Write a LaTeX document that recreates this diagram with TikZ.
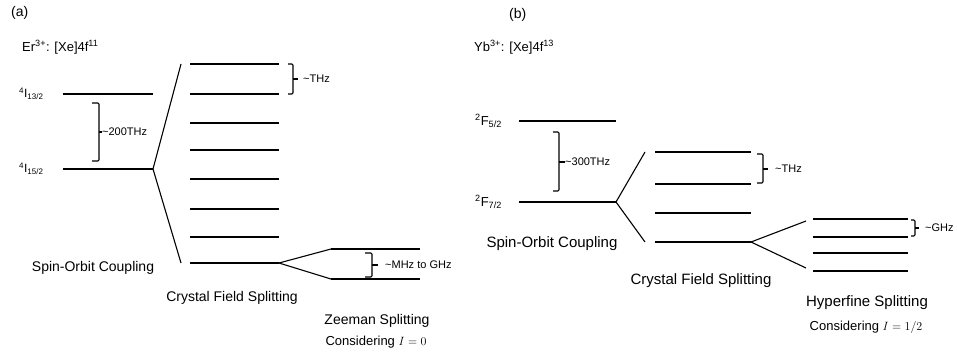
\documentclass[tikz,border=0pt]{standalone}
\usepackage{fontspec}
\setmainfont{Liberation Sans}
\begin{document}
\begin{tikzpicture}[x=1pt,y=-1pt,
  lvl/.style={line width=2.2pt},
  fan/.style={line width=1.1pt},
  brk/.style={line width=1.1pt, rounded corners=1.2pt},
  lbl/.style={anchor=west, inner sep=0pt},
  big/.style={font=\fontsize{14}{16}\selectfont},
  bigb/.style={font=\fontsize{15}{17}\selectfont},
  small/.style={font=\fontsize{11}{13}\selectfont},
  term/.style={font=\fontsize{12}{14}\selectfont, anchor=west, inner sep=0pt}]
\useasboundingbox (0,0) rectangle (957,353);

% ---------- panel (a) ----------
\node[lbl,big] (pa) at (11,13) {(a)};
\node[lbl,font=\fontsize{13}{15}\selectfont] (er) at (22,47) {Er\textsuperscript{3+}: [Xe]4f\textsuperscript{11}};

\node[term] (ta1) at (19,94) {\textsuperscript{4}I\textsubscript{13/2}};
\node[term] (ta2) at (19,169) {\textsuperscript{4}I\textsubscript{15/2}};
\coordinate (a1l) at (63,94);  \coordinate (a1r) at (153,94);
\coordinate (a2l) at (63,169); \coordinate (a2r) at (153,169);
\draw[lvl] (a1l) -- (a1r);
\draw[lvl] (a2l) -- (a2r);

% bracket ~200THz
\draw[brk] (92,103) -- (99,103) -- (99,161) -- (92,161);
\coordinate (ba) at (99,132);
\node[lbl,small] (la) at (102,132) {\textasciitilde200THz};
\draw[line width=1.6pt] (ba) -- (la.west);

% fan spin-orbit -> crystal field
\coordinate (fa1) at (181,64);
\coordinate (fa2) at (181,263);
\draw[fan] (a2r) -- (fa1);
\draw[fan] (a2r) -- (fa2);

% crystal field levels
\foreach \i/\y in {1/64,2/94,3/123,4/150,5/179,6/209,7/237,8/263}{
  \coordinate (c\i l) at (190,\y); \coordinate (c\i r) at (279,\y);
  \draw[lvl] (c\i l) -- (c\i r);
}
% bracket ~THz
\draw[brk] (288,64) -- (293,64) -- (293,94) -- (288,94);
\node[lbl,small] (lthz) at (303,79) {\textasciitilde THz};
\draw[line width=1.2pt] (293,79) -- (298,79);

% Zeeman
\coordinate (z1l) at (331,249); \coordinate (z1r) at (420,249);
\coordinate (z2l) at (331,279); \coordinate (z2r) at (420,279);
\draw[fan] (c8r) -- (z1l);
\draw[fan] (c8r) -- (z2l);
\draw[lvl] (z1l) -- (z1r);
\draw[lvl] (z2l) -- (z2r);
\draw[brk] (365,253) -- (372,253) -- (372,277) -- (365,277);
\node[lbl,small] (lmhz) at (385,265) {\textasciitilde MHz to GHz};
\draw[line width=1.2pt] (372,265) -- (378,265);

\node[big] (soa) at (93,268) {Spin-Orbit Coupling};
\node[big] (cfa) at (232,298) {Crystal Field Splitting};
\node[big] (zsa) at (377,321) {Zeeman Splitting};
\node[font=\fontsize{13}{15}\selectfont] (cza) at (376,342) {Considering $I=0$};

% ---------- panel (b) ----------
\node[lbl,big] (pb) at (509,15) {(b)};
\node[lbl,font=\fontsize{13}{15}\selectfont] (yb) at (474,47) {Yb\textsuperscript{3+}: [Xe]4f\textsuperscript{13}};

\node[term,font=\fontsize{13}{15}\selectfont] (tb1) at (475,121) {\textsuperscript{2}F\textsubscript{5/2}};
\node[term,font=\fontsize{13}{15}\selectfont] (tb2) at (475,202) {\textsuperscript{2}F\textsubscript{7/2}};
\coordinate (b1l) at (519,121); \coordinate (b1r) at (616,121);
\coordinate (b2l) at (519,202); \coordinate (b2r) at (616,202);
\draw[lvl] (b1l) -- (b1r);
\draw[lvl] (b2l) -- (b2r);

\draw[brk] (553,132) -- (559,132) -- (559,191) -- (553,191);
\node[lbl,small] (lb) at (565,162) {\textasciitilde300THz};
\draw[line width=1.6pt] (559,162) -- (lb.west);

\coordinate (fb1) at (645,152);
\coordinate (fb2) at (645,242);
\draw[fan] (b2r) -- (fb1);
\draw[fan] (b2r) -- (fb2);

\foreach \i/\y in {1/152,2/184,3/213,4/242}{
  \coordinate (d\i l) at (655,\y); \coordinate (d\i r) at (751,\y);
  \draw[lvl] (d\i l) -- (d\i r);
}
\draw[brk] (757,154) -- (763,154) -- (763,183) -- (757,183);
\node[lbl,small] (lbthz) at (775,169) {\textasciitilde THz};
\draw[line width=1.2pt] (763,169) -- (768,169);

% hyperfine
\coordinate (hfa) at (806,221);
\coordinate (hfb) at (806,268);
\draw[fan] (d4r) -- (hfa);
\draw[fan] (d4r) -- (hfb);
\foreach \i/\y in {1/219,2/237,3/253,4/271}{
  \coordinate (h\i l) at (813,\y); \coordinate (h\i r) at (908,\y);
  \draw[lvl] (h\i l) -- (h\i r);
}
\draw[brk] (911,220) -- (915,220) -- (915,236) -- (911,236);
\node[lbl,small] (lghz) at (925,228) {\textasciitilde GHz};
\draw[line width=1.2pt] (915,228) -- (919,228);

\node[bigb] (sob) at (552,244) {Spin-Orbit Coupling};
\node[bigb] (cfb) at (701,281) {Crystal Field Splitting};
\node[bigb] (hfs) at (867,303) {Hyperfine Splitting};
\node[font=\fontsize{13}{15}\selectfont] (czb) at (866,327) {Considering $I=1/2$};
\end{tikzpicture}
\end{document}
